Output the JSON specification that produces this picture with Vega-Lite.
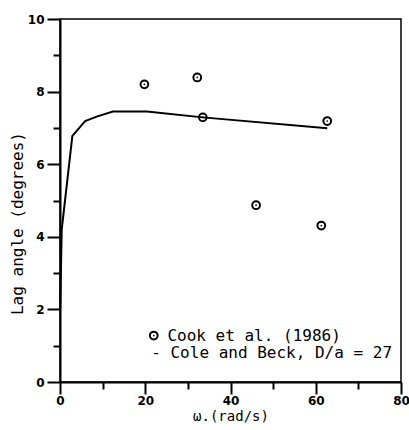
{
  "$schema": "https://vega.github.io/schema/vega-lite/v6.json",
  "width": 341,
  "height": 363,
  "autosize": {"type": "none"},
  "padding": {"left": 60, "top": 19, "right": 8, "bottom": 48},
  "background": "white",
  "config": {
    "view": {"stroke": "black", "strokeWidth": 1.5},
    "axis": {
      "domainColor": "black",
      "domainWidth": 2,
      "tickColor": "black",
      "tickWidth": 2,
      "grid": false,
      "labelColor": "black",
      "titleFont": "DejaVu Sans Mono",
      "titleFontWeight": "normal",
      "titleColor": "black"
    }
  },
  "datasets": {
    "model": [
      {"w": 0.05, "lag": 2.0},
      {"w": 0.4, "lag": 4.2},
      {"w": 2.9, "lag": 6.78},
      {"w": 5.9, "lag": 7.19},
      {"w": 8.6, "lag": 7.31},
      {"w": 12.4, "lag": 7.45},
      {"w": 20.4, "lag": 7.45},
      {"w": 33.5, "lag": 7.29},
      {"w": 62.7, "lag": 6.99}
    ],
    "cook": [
      {"w": 19.8, "lag": 8.2},
      {"w": 32.2, "lag": 8.39},
      {"w": 33.5, "lag": 7.29},
      {"w": 62.7, "lag": 7.19},
      {"w": 46.0, "lag": 4.87},
      {"w": 61.3, "lag": 4.31}
    ],
    "legendSym": [{"w": 22.0, "lag": 1.28}],
    "legendText": [
      {"w": 25.2, "lag": 1.28, "label": "Cook et al. (1986)"},
      {"w": 21.4, "lag": 0.8, "label": "- Cole and Beck, D/a = 27"}
    ]
  },
  "encoding": {
    "x": {
      "field": "w",
      "type": "quantitative",
      "scale": {"domain": [0, 80], "nice": false},
      "axis": {
        "title": "ω.(rad/s)",
        "titleFontSize": 14,
        "titlePadding": 3,
        "values": [0, 10, 20, 30, 40, 50, 60, 70, 80],
        "labelExpr": "datum.value % 20 === 0 ? datum.label : ''",
        "labelFont": "DejaVu Sans",
        "labelFontWeight": "bold",
        "labelFontSize": 12,
        "tickSize": {"condition": {"test": "datum.value % 20 === 0", "value": 12}, "value": 7},
        "labelPadding": 1,
        "labelFlush": false
      }
    },
    "y": {
      "field": "lag",
      "type": "quantitative",
      "scale": {"domain": [0, 10], "nice": false},
      "axis": {
        "title": "Lag angle (degrees)",
        "titleFontSize": 16,
        "titlePadding": 2,
        "titleY": 204,
        "values": [0, 1, 2, 3, 4, 5, 6, 7, 8, 9, 10],
        "labelExpr": "datum.value % 2 === 0 ? datum.label : ''",
        "labelFont": "DejaVu Sans",
        "labelFontWeight": "bold",
        "labelFontSize": 12,
        "tickSize": {"condition": {"test": "datum.value % 2 === 0", "value": 13}, "value": 7},
        "labelPadding": 3,
        "labelFlush": false
      }
    }
  },
  "layer": [
    {
      "data": {"name": "model"},
      "mark": {"type": "line", "color": "black", "strokeWidth": 2}
    },
    {
      "data": {"name": "cook"},
      "mark": {"type": "point", "shape": "circle", "filled": false, "color": "black", "strokeWidth": 2, "size": 60, "opacity": 1}
    },
    {
      "data": {"name": "cook"},
      "mark": {"type": "point", "shape": "circle", "filled": true, "color": "black", "size": 3, "opacity": 1}
    },
    {
      "data": {"name": "legendSym"},
      "mark": {"type": "point", "shape": "circle", "filled": false, "color": "black", "strokeWidth": 2, "size": 60, "opacity": 1}
    },
    {
      "data": {"name": "legendSym"},
      "mark": {"type": "point", "shape": "circle", "filled": true, "color": "black", "size": 3, "opacity": 1}
    },
    {
      "data": {"name": "legendText"},
      "mark": {"type": "text", "align": "left", "baseline": "middle", "font": "DejaVu Sans Mono", "fontSize": 16, "color": "black"},
      "encoding": {"text": {"field": "label"}}
    }
  ]
}
